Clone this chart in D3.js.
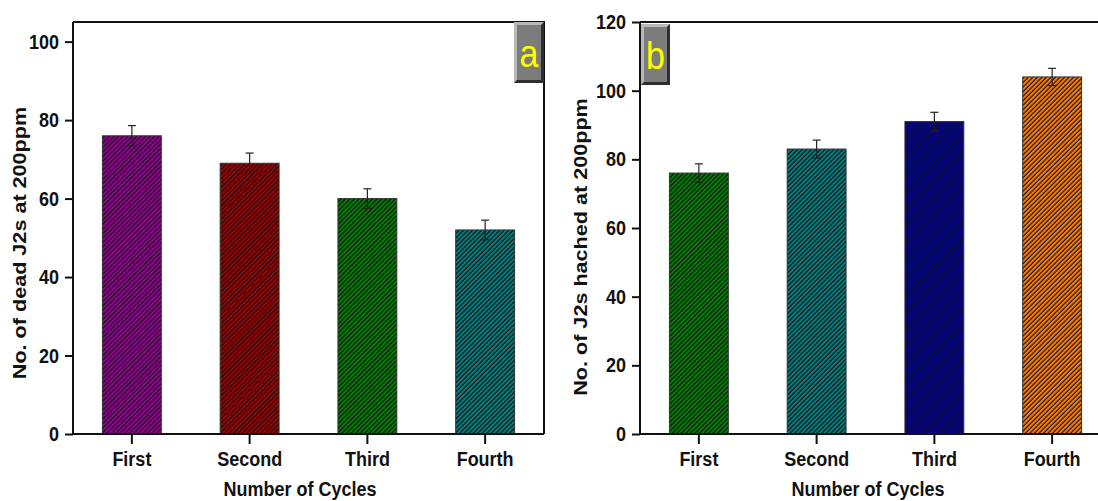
<!DOCTYPE html>
<meta charset="utf-8">
<title>J2s over cycles</title>
<style>
body {
  margin: 0;
  background: #fff;
}
text {
  font-family: Arial, "Liberation Sans", sans-serif;
  font-weight: bold;
  fill: #111;
}
.axis path, .axis line {
  stroke: #111;
  stroke-width: 2px;
}
.axis text {
  font-size: 18px;
}
</style>
<body>
<div id="chart"></div>
<script src="https://d3js.org/d3.v7.min.js"></script>
<script>
// Data
const cycles = ["First", "Second", "Third", "Fourth"];

const deadJ2s = [76, 69, 60, 52];
const deadErr = [2.6, 2.6, 2.5, 2.5];
const deadColors = ["#990099", "#a00000", "#008000", "#008080"];

const hatchedJ2s = [76, 83, 91, 104];
const hatchedErr = [2.7, 2.6, 2.7, 2.5];
const hatchedColors = ["#008000", "#008080", "#0000a0", "#ff8000"];

const yTicksA = [0, 20, 40, 60, 80, 100];
const yTicksB = [0, 20, 40, 60, 80, 100, 120];

const width = 1098;
const height = 501;
const stretch = 1.14; // the figure's lettering is a bit taller than wide

const svg = d3.select("#chart")
  .append("svg")
    .attr("width", width)
    .attr("height", height);

const defs = svg.append("defs");

// hatch pattern: coloured fill with dense "/" lines on top
function hatch(color) {
  const id = "hatch-" + color.replace("#", "");
  if (!defs.select("#" + id).empty()) return id;
  const p = defs.append("pattern")
      .attr("id", id)
      .attr("patternUnits", "userSpaceOnUse")
      .attr("width", 3.2)
      .attr("height", 3.2)
      .attr("patternTransform", "rotate(45)");
  p.append("rect")
      .attr("width", 3.2)
      .attr("height", 3.2)
      .attr("fill", color);
  p.append("line")
      .attr("x1", 1).attr("y1", -1)
      .attr("x2", 1).attr("y2", 5)
      .attr("stroke", "#111")
      .attr("stroke-width", 1.2);
  return id;
}

function drawPanel(opt) {
  const g = svg.append("g");

  const x = d3.scaleBand()
      .domain(cycles)
      .range([opt.left, opt.right])
      .paddingInner(0.5)
      .paddingOuter(0.25);

  const y = d3.scaleLinear()
      .domain([0, opt.yMax])
      .range([opt.bottom, opt.top]);

  // frame (top and right sides)
  g.append("path")
      .attr("d", `M${opt.left},${opt.top}H${opt.right}V${opt.bottom}`)
      .attr("fill", "none")
      .attr("stroke", "#111")
      .attr("stroke-width", 2);

  // bars
  g.selectAll("rect.bar")
    .data(opt.values)
    .enter().append("rect")
      .attr("class", "bar")
      .attr("x", (d, i) => x(cycles[i]))
      .attr("width", x.bandwidth())
      .attr("y", d => y(d))
      .attr("height", d => y(0) - y(d))
      .attr("fill", (d, i) => `url(#${hatch(opt.colors[i])})`)
      .attr("stroke", "#333")
      .attr("stroke-width", 1);

  // error bars
  const eb = g.selectAll("g.err")
    .data(opt.values)
    .enter().append("g")
      .attr("class", "err")
      .attr("transform", (d, i) => `translate(${x(cycles[i]) + x.bandwidth() / 2},0)`)
      .attr("stroke", "#222")
      .attr("stroke-width", 1.2);
  eb.append("line")
      .attr("y1", (d, i) => y(d + opt.errors[i]))
      .attr("y2", (d, i) => y(d - opt.errors[i]));
  eb.append("line")
      .attr("x1", -4).attr("x2", 4)
      .attr("y1", (d, i) => y(d + opt.errors[i]))
      .attr("y2", (d, i) => y(d + opt.errors[i]));
  eb.append("line")
      .attr("x1", -4).attr("x2", 4)
      .attr("y1", (d, i) => y(d - opt.errors[i]))
      .attr("y2", (d, i) => y(d - opt.errors[i]));

  // axes
  g.append("g")
      .attr("class", "axis")
      .attr("transform", `translate(${opt.left},0)`)
      .call(d3.axisLeft(y).tickValues(opt.yTicks).tickSize(8).tickSizeOuter(0).tickPadding(6))
      .call(a => a.select(".domain").attr("d", `M0,${opt.bottom}V${opt.top}`))
      .call(a => a.selectAll(".tick text")
          .attr("y", 0)
          .attr("transform", `scale(1,${stretch})`));

  g.append("g")
      .attr("class", "axis")
      .attr("transform", `translate(0,${opt.bottom})`)
      .call(d3.axisBottom(x).tickSize(10).tickSizeOuter(0).tickPadding(8))
      .call(a => a.select(".domain").attr("d", `M${opt.left},0H${opt.right}`))
      .call(a => a.selectAll(".tick text")
          .attr("y", 0)
          .attr("transform", `translate(0,17) scale(1,${stretch})`));

  // axis titles
  g.append("text")
      .attr("transform", `translate(${opt.xTitleX},496) scale(1,${stretch})`)
      .attr("text-anchor", "middle")
      .style("font-size", "18px")
      .text("Number of Cycles");

  g.append("text")
      .attr("transform", `translate(${opt.yTitleX},${opt.yTitleY}) scale(1,1.2) rotate(-90)`)
      .attr("text-anchor", "middle")
      .attr("dy", "0.35em")
      .style("font-size", "18px")
      .text(opt.yTitle);

  // bevelled panel letter
  const b = opt.badge;
  const lb = g.append("g").attr("transform", `translate(${b.x},${b.y})`);
  lb.append("rect")
      .attr("width", b.w).attr("height", b.h)
      .attr("fill", "#7c7c7c");
  lb.append("path")
      .attr("d", `M0,0H${b.w}L${b.w - 3},3H3V${b.h - 3}L0,${b.h}Z`)
      .attr("fill", "#b8b8b8");
  lb.append("path")
      .attr("d", `M${b.w},0V${b.h}H0L3,${b.h - 3}H${b.w - 3}V3Z`)
      .attr("fill", "#2e2e2e");
  lb.append("text")
      .attr("transform", `translate(${b.w / 2},${b.h - 16}) scale(1,1.12)`)
      .attr("text-anchor", "middle")
      .style("font-size", "34px")
      .style("font-weight", "normal")
      .style("fill", "#ffff00")
      .text(opt.letter);
}

drawPanel({
  left: 73, right: 544, top: 22, bottom: 434,
  yMax: 105, yTicks: yTicksA,
  values: deadJ2s, errors: deadErr, colors: deadColors,
  yTitle: "No. of dead J2s at 200ppm", yTitleX: 20, yTitleY: 243,
  xTitleX: 300,
  letter: "a", badge: {x: 514, y: 22, w: 30, h: 61}
});

drawPanel({
  left: 640, right: 1111, top: 22, bottom: 434,
  yMax: 120, yTicks: yTicksB,
  values: hatchedJ2s, errors: hatchedErr, colors: hatchedColors,
  yTitle: "No. of J2s hached at 200ppm", yTitleX: 581, yTitleY: 247,
  xTitleX: 868,
  letter: "b", badge: {x: 641, y: 24, w: 29, h: 61}
});
</script>
</body>
